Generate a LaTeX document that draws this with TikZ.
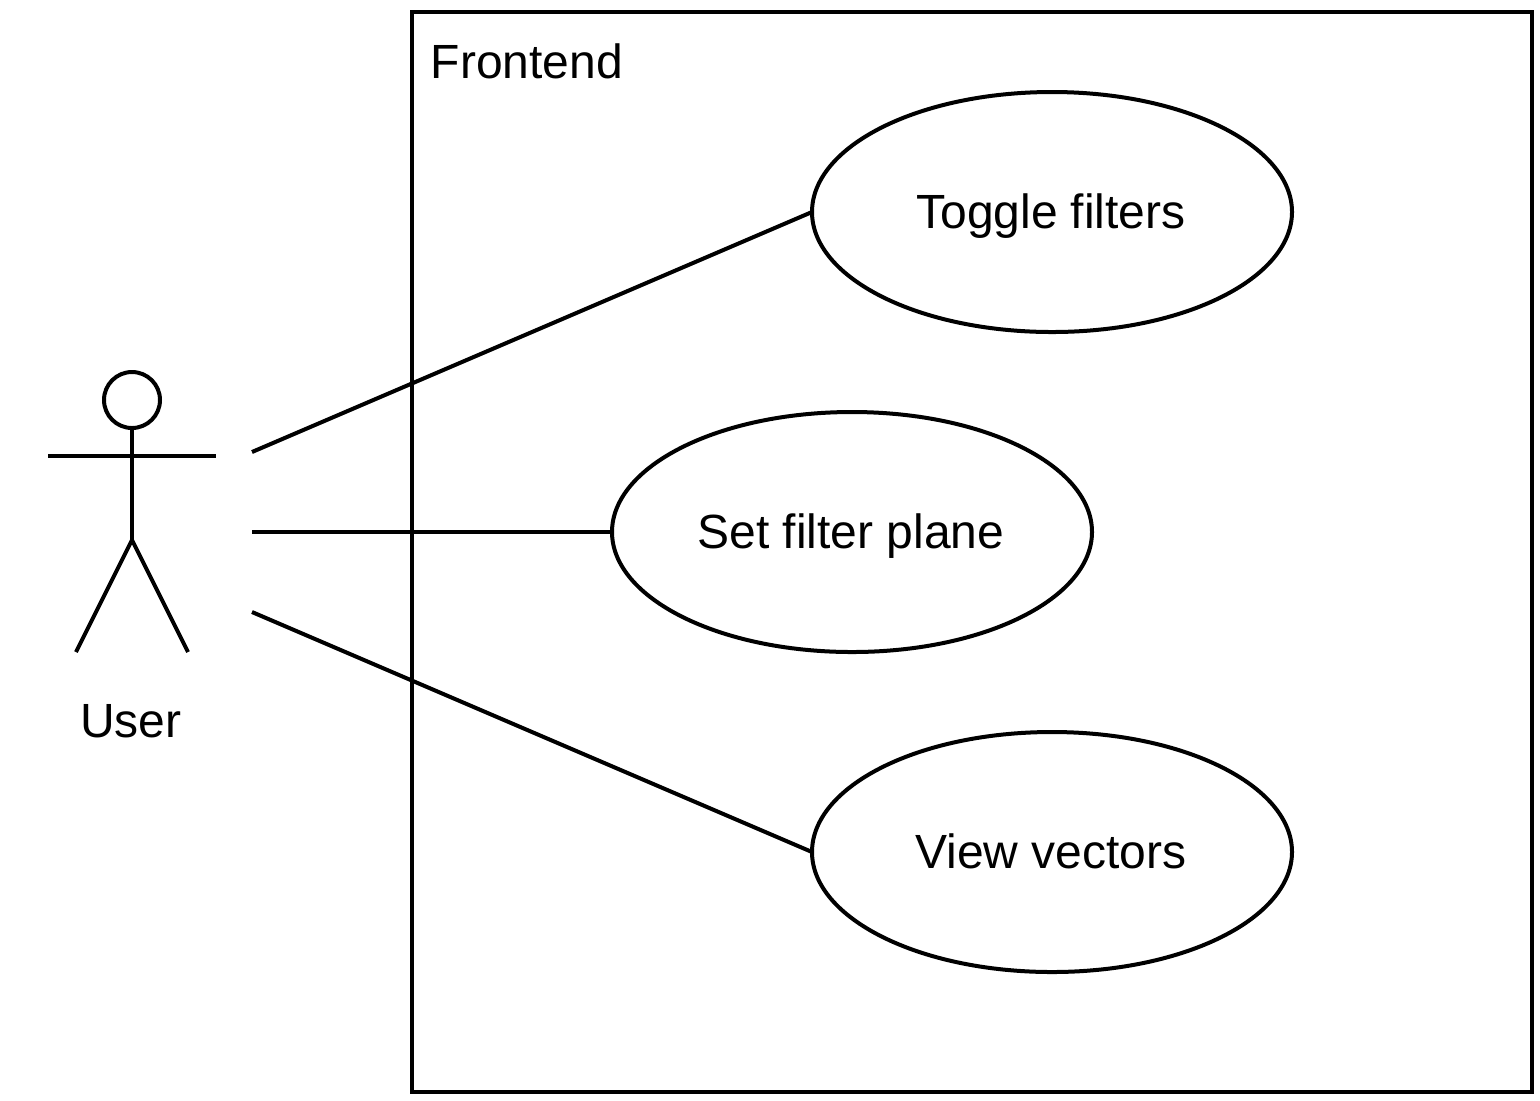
\documentclass[tikz,border=0pt]{standalone}
\usepackage{fontspec}
\setmainfont{Liberation Sans}
\usetikzlibrary{shapes.geometric}
\newcommand{\nudge}{\hspace*{-1pt}}
\tikzset{
  px/.style={x=0.5pt,y=-0.5pt},
  line/.style={draw=black,line width=2pt},
  usecase/.style={ellipse,line,fill=white,minimum width=240pt,minimum height=120pt,inner sep=0pt,outer sep=0pt,text height=16pt,text depth=0pt,font=\fontsize{24}{28}\selectfont},
  label/.style={inner sep=0pt,font=\fontsize{24}{28}\selectfont},
  system/.style={rectangle,line,minimum width=560pt,minimum height=540pt,inner sep=0pt,outer sep=0pt},
  head/.style={circle,line,minimum size=28pt,inner sep=0pt,outer sep=0pt}
}
\begin{document}
\begin{tikzpicture}[px]
\useasboundingbox (0,0) rectangle (1540,1100);
\node[system] (frontend) at (972,552) {};
\node[label,anchor=base west] (frontendlabel) at (430.4,78) {Frontend};
\node[usecase] (toggle) at (1052,212) {\nudge Toggle filters};
\node[usecase] (setplane) at (852,532) {\nudge Set filter plane};
\node[usecase] (view) at (1052,852) {\nudge View vectors};
\node[head] (head) at (132,400) {};
\coordinate (hip) at (132,540);
\coordinate (armL) at (48,456);
\coordinate (armR) at (216,456);
\coordinate (legL) at (76,652);
\coordinate (legR) at (188,652);
\draw[line] (head.south) -- (hip);
\draw[line] (armL) -- (armR);
\draw[line] (legL) -- (hip) -- (legR);
\node[label] (user) at (131,721) {User};
\coordinate (c1) at (252,452);
\coordinate (c2) at (252,532);
\coordinate (c3) at (252,612);
\draw[line] (c1) -- (toggle.west);
\draw[line] (c2) -- (setplane.west);
\draw[line] (c3) -- (view.west);
\end{tikzpicture}
\end{document}
